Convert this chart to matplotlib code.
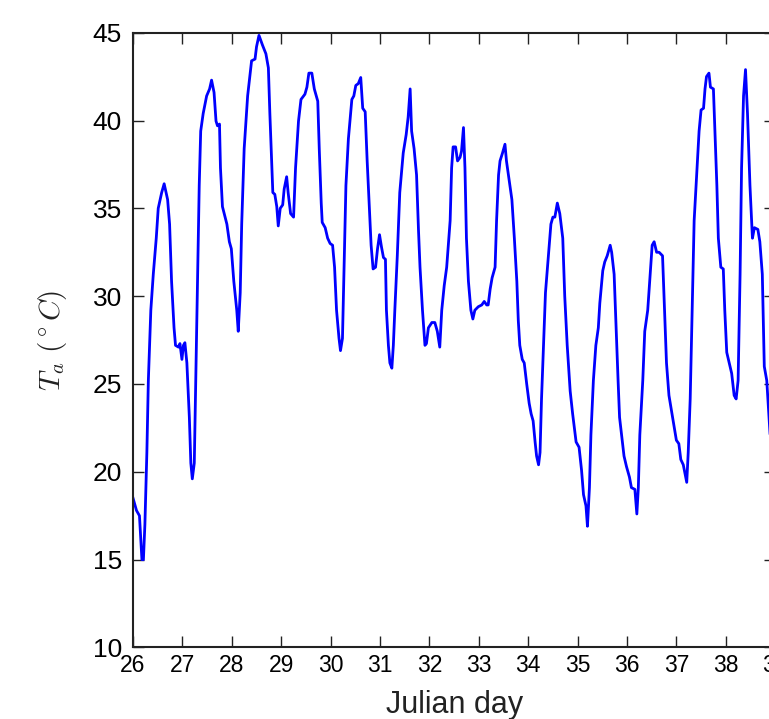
from __future__ import annotations

import matplotlib
matplotlib.use("Agg")
import matplotlib.pyplot as plt


# =========================================================
# DATA
# =========================================================

JULIAN_DAY = [
    26.0, 26.07, 26.13, 26.18, 26.21, 26.24, 26.28, 26.31, 26.36, 26.41,
    26.47, 26.51, 26.58, 26.63, 26.7, 26.74, 26.78, 26.83, 26.86, 26.92,
    26.95, 26.99, 27.02, 27.05, 27.09, 27.14, 27.17, 27.2, 27.24, 27.27,
    27.31, 27.34, 27.37, 27.42, 27.49, 27.55, 27.59, 27.64, 27.68, 27.71,
    27.75, 27.77, 27.81, 27.9, 27.95, 27.99, 28.04, 28.1, 28.13,
    28.17, 28.2, 28.25, 28.32, 28.4, 28.47, 28.5, 28.55, 28.62, 28.69,
    28.74, 28.77, 28.81, 28.83, 28.87, 28.91, 28.94, 28.98, 29.03, 29.06,
    29.11, 29.14, 29.19, 29.25, 29.29, 29.35, 29.4, 29.48, 29.52, 29.56,
    29.62, 29.67, 29.74, 29.77, 29.81, 29.83, 29.89, 29.94, 29.99, 30.04,
    30.08, 30.12, 30.17, 30.2,
    30.24, 30.27, 30.31, 30.36, 30.43, 30.47, 30.51, 30.56, 30.61, 30.65,
    30.7, 30.74, 30.78, 30.82, 30.86, 30.91, 30.95, 30.99, 31.03, 31.07,
    31.11, 31.13, 31.17, 31.2, 31.24, 31.27, 31.3, 31.35, 31.4, 31.47,
    31.53, 31.57, 31.61, 31.64, 31.69, 31.74, 31.78, 31.81, 31.86, 31.91,
    31.94, 31.98, 32.05, 32.11, 32.16, 32.21, 32.25, 32.3, 32.35,
    32.42, 32.45, 32.48, 32.53, 32.57, 32.62, 32.65, 32.69, 32.72, 32.75,
    32.79, 32.84, 32.88, 32.92, 32.99, 33.06, 33.11, 33.16, 33.19, 33.23,
    33.27, 33.33, 33.36, 33.4, 33.43, 33.48, 33.53, 33.56, 33.61, 33.67,
    33.72, 33.77, 33.8, 33.83, 33.88, 33.92, 33.97, 34.02, 34.06, 34.1,
    34.14, 34.17, 34.21, 34.24, 34.27, 34.31, 34.35, 34.41, 34.46,
    34.5, 34.54, 34.59, 34.64, 34.7, 34.74, 34.79, 34.85, 34.9, 34.97,
    35.03, 35.08, 35.12, 35.17, 35.2, 35.24, 35.27, 35.32, 35.37, 35.42,
    35.45, 35.51, 35.55, 35.6, 35.66, 35.69, 35.74, 35.78, 35.82, 35.85,
    35.89, 35.94, 35.99, 36.05, 36.09, 36.16, 36.2, 36.23, 36.26, 36.32,
    36.36, 36.42, 36.47, 36.51, 36.55, 36.6,
    36.65, 36.72, 36.76, 36.8, 36.85, 36.9, 36.96, 37.0, 37.05, 37.09,
    37.14, 37.21, 37.24, 37.28, 37.32, 37.36, 37.41, 37.46, 37.5, 37.55,
    37.58, 37.61, 37.66, 37.69, 37.75, 37.78, 37.82, 37.85, 37.9, 37.95,
    37.98, 38.02, 38.07, 38.12, 38.17, 38.21, 38.25, 38.29, 38.32, 38.36,
    38.4, 38.44, 38.49, 38.54, 38.58, 38.65, 38.69, 38.74, 38.78, 38.83,
    38.9,
]

AIR_TEMP = [
    18.5, 17.8, 17.5, 15.0, 15.0, 17.0, 21.1, 25.2, 29.2, 31.25,
    33.3, 35.0, 35.9, 36.4, 35.5, 34.1, 30.85, 28.2, 27.2, 27.1,
    27.3, 26.4, 27.2, 27.35, 26.2, 23.1, 20.5, 19.6, 20.5, 25.2,
    31.25, 36.3, 39.4, 40.4, 41.4, 41.8, 42.3, 41.6, 39.97, 39.7,
    39.8, 37.3, 35.1, 34.1, 33.1, 32.7, 30.85, 29.2, 28.0,
    30.2, 34.1, 38.4, 41.4, 43.4, 43.5, 44.2, 44.85, 44.3, 43.8,
    43.0, 40.4, 37.3, 35.9, 35.8, 35.1, 34.0, 35.0, 35.2, 36.1,
    36.8, 35.9, 34.7, 34.5, 37.3, 39.97, 41.2, 41.5, 41.9, 42.7,
    42.7, 41.8, 41.1, 38.4, 35.3, 34.2, 33.9, 33.3, 33.0, 32.9,
    31.65, 29.2, 27.6, 26.9,
    27.6, 31.25, 36.3, 38.96, 41.2, 41.4, 42.0, 42.1, 42.45, 40.7,
    40.5, 37.7, 35.3, 32.9, 31.55, 31.65, 32.7, 33.5, 32.8, 32.2,
    32.1, 29.2, 27.2, 26.2, 25.9, 27.2, 29.2, 32.3, 35.9, 38.15,
    39.2, 40.2, 41.8, 39.4, 38.4, 36.9, 33.7, 31.65, 29.2, 27.2,
    27.3, 28.2, 28.5, 28.5, 28.0, 27.1, 29.2, 30.6, 31.65,
    34.3, 37.3, 38.5, 38.5, 37.7, 37.9, 38.25, 39.6, 37.3, 33.3,
    30.85, 29.2, 28.7, 29.2, 29.4, 29.5, 29.7, 29.5, 29.5, 30.4,
    31.05, 31.65, 34.3, 36.9, 37.7, 38.15, 38.65, 37.7, 36.7, 35.5,
    33.3, 30.85, 28.6, 27.2, 26.4, 26.2, 25.0, 23.9, 23.3, 22.9,
    21.7, 20.9, 20.4, 21.1, 24.15, 27.2, 30.2, 32.3, 34.1,
    34.5, 34.5, 35.3, 34.7, 33.3, 30.0, 27.2, 24.6, 23.3, 21.7,
    21.4, 20.1, 18.7, 18.06, 16.9, 19.1, 22.1, 25.2, 27.2, 28.2,
    29.6, 31.45, 31.95, 32.3, 32.9, 32.5, 31.25, 28.2, 25.2, 23.1,
    22.1, 20.9, 20.3, 19.7, 19.1, 19.0, 17.6, 19.1, 22.1, 25.2,
    28.0, 29.2, 31.25, 32.9, 33.1, 32.5,
    32.5, 32.3, 29.2, 26.2, 24.35, 23.5, 22.5, 21.8, 21.6, 20.7,
    20.4, 19.4, 21.1, 24.15, 29.2, 34.3, 36.9, 39.4, 40.6, 40.7,
    41.8, 42.5, 42.7, 41.9, 41.8, 39.4, 36.3, 33.3, 31.65, 31.55,
    29.2, 26.8, 26.2, 25.6, 24.35, 24.15, 25.2, 31.25, 37.3, 41.4,
    42.9, 40.4, 36.3, 33.3, 33.9, 33.8, 33.1, 31.25, 26.0, 25.2,
    22.0,
]

X_TICKS = list(range(26, 40))
Y_TICKS = [10, 15, 20, 25, 30, 35, 40, 45]


# =========================================================
# FIGURE
# =========================================================

def build_figure() -> None:
    plt.rcParams["mathtext.fontset"] = "cm"
    plt.rcParams["font.family"] = ["Liberation Sans", "DejaVu Sans"]

    fig = plt.figure(figsize=(7.69, 7.19), dpi=100)
    # right edge of the axes runs a little past the figure, as in the reference
    ax = fig.add_axes([0.173, 0.0995, 0.835, 0.855])

    ax.plot(JULIAN_DAY, AIR_TEMP, color="#0000ff", linewidth=2.0,
            solid_joinstyle="round")

    ax.set_xlim(26, 39)
    ax.set_ylim(10, 45)
    ax.set_xticks(X_TICKS)
    ax.set_yticks(Y_TICKS)

    ax.tick_params(direction="in", length=8, width=1, top=True, right=True,
                   color="#222222")
    ax.tick_params(axis="x", labelsize=16.5, pad=5)
    ax.tick_params(axis="y", labelsize=19, pad=8)
    for spine in ax.spines.values():
        spine.set_linewidth(1.5)
        spine.set_color("#222222")

    ax.set_xlabel("Julian day", fontsize=22, labelpad=9, color="#222222")
    ax.set_ylabel(r"$T_a\ (^\circ C)$", fontsize=21, labelpad=17,
                  color="#222222")

    fig.savefig("out.png", dpi=100)
    plt.close(fig)


def main() -> None:
    build_figure()


if __name__ == "__main__":
    main()
